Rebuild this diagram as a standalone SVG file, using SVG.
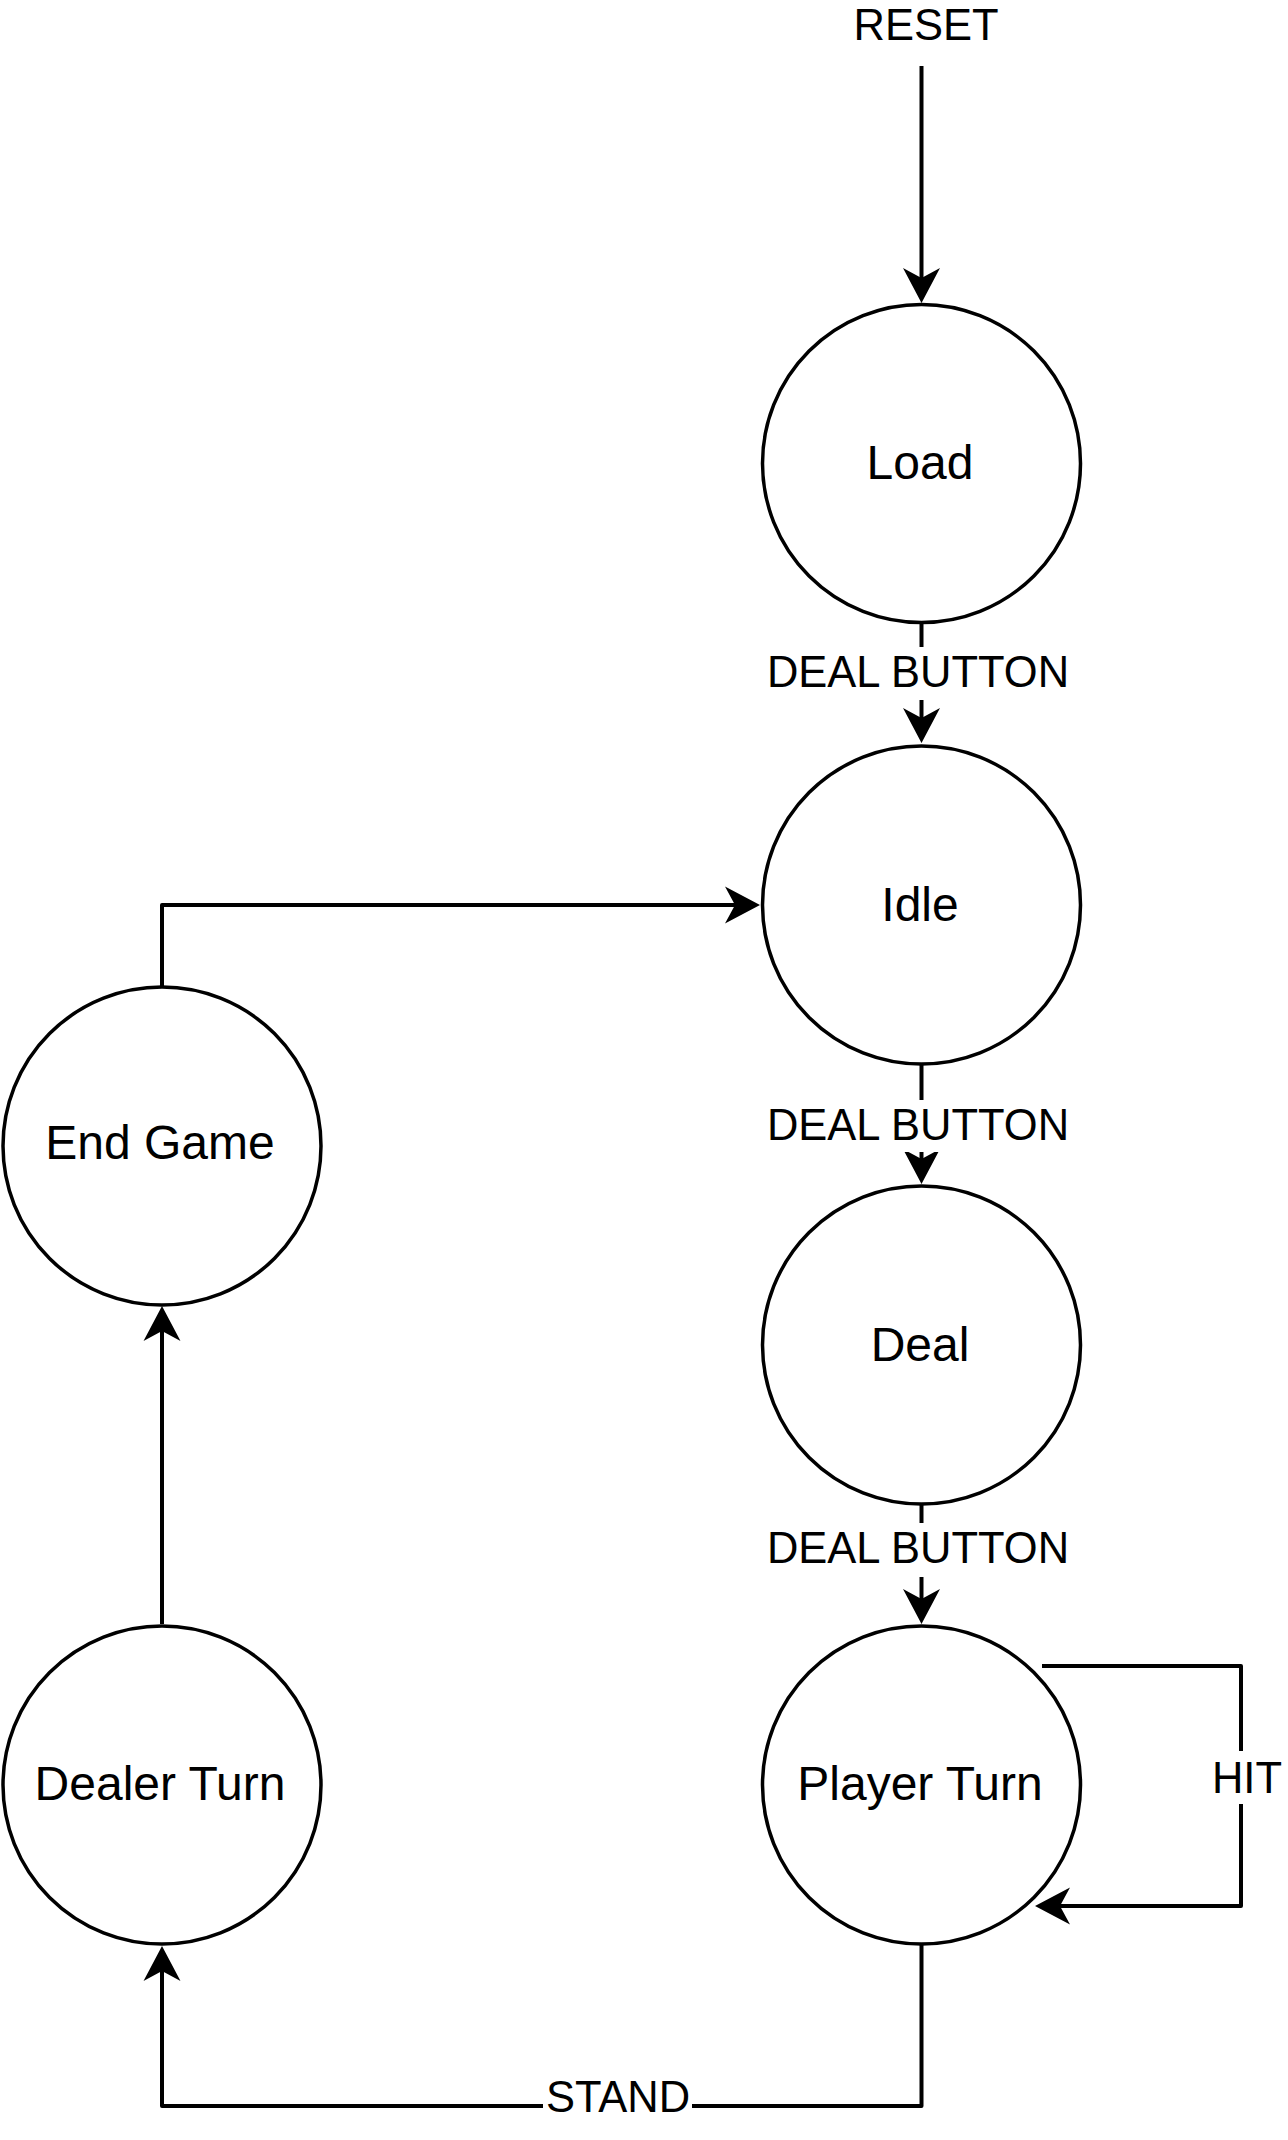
<svg xmlns="http://www.w3.org/2000/svg" width="1288" height="2140" viewBox="0 0 1288 2140">
<style>
.node{fill:#fff;stroke:#000;stroke-width:3.5}
.ntext{font-family:"Liberation Sans",Arial,sans-serif;font-size:48px;fill:#000;text-anchor:middle}
.edge{fill:none;stroke:#000;stroke-width:4;stroke-linejoin:round}
.ltext{font-family:"Liberation Sans",Arial,sans-serif;font-size:43.5px;fill:#000;text-anchor:middle}
.lbg{fill:#fff;stroke:none}
</style>
<defs>
<marker id="arr" markerUnits="userSpaceOnUse" viewBox="-12 -20 40 40" markerWidth="40" markerHeight="40" refX="0" refY="0" orient="auto" overflow="visible">
<path d="M25,0 L-10,-18.5 L0,0 L-10,18.5 Z" fill="#000"/>
</marker>
</defs>
<rect width="1288" height="2140" fill="#fff"/>
<g id="connectors">
<path class="edge" d="M921.5 66 V278" marker-end="url(#arr)"/>
<text class="ltext" x="926" y="40">RESET</text>
<path class="edge" d="M921.5 623 V718" marker-end="url(#arr)"/>
<rect class="lbg" x="760" y="647" width="318" height="53"/>
<text class="ltext" x="918" y="687">DEAL BUTTON</text>
<path class="edge" d="M921.5 1065 V1159" marker-end="url(#arr)"/>
<rect class="lbg" x="760" y="1100" width="318" height="52"/>
<text class="ltext" x="918" y="1140">DEAL BUTTON</text>
<path class="edge" d="M921.5 1505 V1599" marker-end="url(#arr)"/>
<rect class="lbg" x="760" y="1523" width="318" height="54"/>
<text class="ltext" x="918" y="1563">DEAL BUTTON</text>
<path class="edge" d="M1042 1666 H1241 V1906 H1060" marker-end="url(#arr)"/>
<rect class="lbg" x="1205" y="1751" width="83" height="53"/>
<text class="ltext" x="1247" y="1792.5">HIT</text>
<path class="edge" d="M921.5 1944 V2106 H162 V1971" marker-end="url(#arr)"/>
<rect class="lbg" x="543" y="2080" width="149" height="45"/>
<text class="ltext" x="618" y="2111.5">STAND</text>
<path class="edge" d="M162 1624 V1331" marker-end="url(#arr)"/>
<path class="edge" d="M162 986 V905 H735" marker-end="url(#arr)"/>
</g>
<g id="load"><circle class="node" cx="921.5" cy="463.5" r="159"/><text class="ntext" x="920" y="479">Load</text></g>
<g id="idle"><circle class="node" cx="921.5" cy="905" r="159"/><text class="ntext" x="920" y="920.5">Idle</text></g>
<g id="deal"><circle class="node" cx="921.5" cy="1345" r="159"/><text class="ntext" x="920" y="1360.5">Deal</text></g>
<g id="player-turn"><circle class="node" cx="921.5" cy="1785" r="159"/><text class="ntext" x="920" y="1800">Player Turn</text></g>
<g id="end-game"><circle class="node" cx="162" cy="1146" r="159"/><text class="ntext" x="160" y="1159">End Game</text></g>
<g id="dealer-turn"><circle class="node" cx="162" cy="1785" r="159"/><text class="ntext" x="160" y="1800">Dealer Turn</text></g>
</svg>
